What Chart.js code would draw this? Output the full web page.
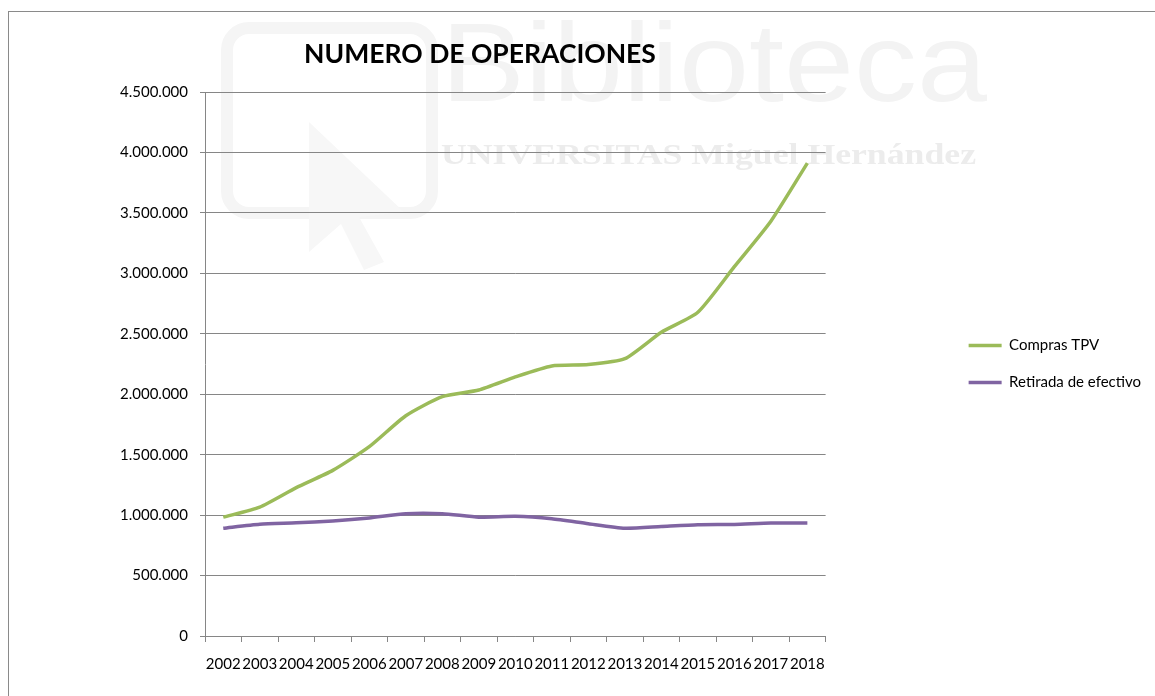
<!DOCTYPE html>
<html>
<head>
<meta charset="utf-8">
<script src="https://cdn.jsdelivr.net/npm/chart.js@4/dist/chart.umd.min.js"></script>
<style>
  html, body { margin: 0; padding: 0; background: #fff; overflow: hidden; }
  #frame {
    position: absolute; left: 8px; top: 11px;
    width: 1160px; height: 700px;
    border-left: 1px solid #8a8a8a; border-top: 1px solid #8a8a8a;
  }
  #box { position: absolute; left: 0; top: 0; width: 1146px; height: 684px; }
</style>
</head>
<body>
<div id="frame"><div id="box"><canvas id="chart"></canvas></div></div>
<script>
/* Numero de operaciones, 2002-2018. */

const years = ['2002', '2003', '2004', '2005', '2006', '2007', '2008', '2009', '2010',
  '2011', '2012', '2013', '2014', '2015', '2016', '2017', '2018'];

const comprasTPV = [983000, 1066000, 1227000, 1370000, 1566000, 1822000, 1980000, 2035000,
  2143000, 2234000, 2245000, 2294000, 2513000, 2678000, 3055000, 3431000, 3912000];

const retiradaEfectivo = [892000, 925000, 936000, 952000, 977000, 1012000, 1012000, 983000,
  990000, 970000, 929000, 892000, 906000, 920000, 923000, 934000, 934000];

const yTicks = { min: 0, max: 4500000, step: 500000 };

const titleText = 'NUMERO DE OPERACIONES';
const watermark = ['Biblioteca', 'UNIVERSITAS Miguel Hernández'];

const FONT = 'Lato, "Open Sans", sans-serif';
const GRID = '#868686';

function fmtMiles(v) {
  return String(v).replace(/\B(?=(\d{3})+(?!\d))/g, '.');
}

// text squeezed/stretched to a given width (watermark only)
function fitText(ctx, text, x, y, width) {
  const w = ctx.measureText(text).width;
  ctx.save();
  ctx.translate(x, y);
  ctx.scale(width / w, 1);
  ctx.fillText(text, 0, 0);
  ctx.restore();
}

// faint library watermark behind the chart
const watermarkPlugin = {
  id: 'watermark',
  beforeDraw(chart) {
    const { ctx } = chart;
    ctx.save();
    ctx.strokeStyle = '#f5f5f5';
    ctx.lineWidth = 12;
    ctx.beginPath();
    ctx.roundRect(218, 16, 205, 185, 22);
    ctx.stroke();
    ctx.fillStyle = '#f7f7f7';
    ctx.beginPath();
    ctx.moveTo(300, 110); ctx.lineTo(395, 200); ctx.lineTo(350, 205);
    ctx.lineTo(375, 250); ctx.lineTo(355, 258); ctx.lineTo(332, 212);
    ctx.lineTo(300, 240); ctx.closePath();
    ctx.fill();
    ctx.textBaseline = 'alphabetic';
    ctx.fillStyle = '#f3f3f3';
    ctx.font = '112px "Liberation Sans", Arial, sans-serif';
    fitText(ctx, watermark[0], 432, 89, 546);
    ctx.fillStyle = '#ececec';
    ctx.font = 'bold 29px "Liberation Serif", serif';
    fitText(ctx, watermark[1], 432, 152, 535);
    ctx.restore();
  },
};

const titlePlugin = {
  id: 'excelTitle',
  afterDraw(chart) {
    const { ctx, chartArea } = chart;
    ctx.save();
    ctx.fillStyle = '#000';
    ctx.font = `bold 26.5px ${FONT}`;
    ctx.textAlign = 'center';
    ctx.textBaseline = 'alphabetic';
    ctx.fillText(titleText, chartArea.left + 275, 51);
    ctx.restore();
  },
};

new Chart(document.getElementById('chart'), {
  type: 'line',
  data: {
    labels: years,
    datasets: [
      {
        label: 'Compras TPV',
        data: comprasTPV,
        borderColor: '#9bbb59',
        backgroundColor: '#9bbb59',
        borderWidth: 3.5,
        pointRadius: 0,
        tension: 0.2,
      },
      {
        label: 'Retirada de efectivo',
        data: retiradaEfectivo,
        borderColor: '#8064a2',
        backgroundColor: '#8064a2',
        borderWidth: 3.5,
        pointRadius: 0,
        tension: 0.2,
      },
    ],
  },
  options: {
    responsive: true,
    maintainAspectRatio: false,
    animation: false,
    layout: { padding: { top: 80, left: 0, right: 4, bottom: 0 } },
    scales: {
      x: {
        offset: true,
        grid: { offset: true, drawOnChartArea: false, color: GRID, tickLength: 6 },
        border: { color: GRID },
        ticks: { color: '#000', font: { family: FONT, size: 15 }, padding: 13, maxRotation: 0, autoSkip: false },
        afterFit(s) { s.height = 60; },
      },
      y: {
        min: yTicks.min,
        max: yTicks.max,
        grid: { color: GRID, tickLength: 5 },
        border: { color: GRID },
        ticks: {
          stepSize: yTicks.step,
          color: '#000',
          font: { family: FONT, size: 15 },
          padding: 12,
          callback: (v) => fmtMiles(v),
        },
        afterFit(s) { s.width = 196; },
      },
      gap: {
        type: 'linear',
        position: 'right',
        grid: { display: false },
        border: { display: false },
        ticks: { display: false },
        afterFit(s) { s.width = 121; },
      },
    },
    plugins: {
      legend: {
        position: 'right',
        fullSize: false,
        maxWidth: 210,
        labels: {
          usePointStyle: true,
          pointStyle: 'line',
          pointStyleWidth: 33,
          padding: 22,
          color: '#000',
          font: { family: FONT, size: 15 },
        },
      },
      tooltip: { enabled: false },
    },
  },
  plugins: [watermarkPlugin, titlePlugin],
});
</script>
</body>
</html>
